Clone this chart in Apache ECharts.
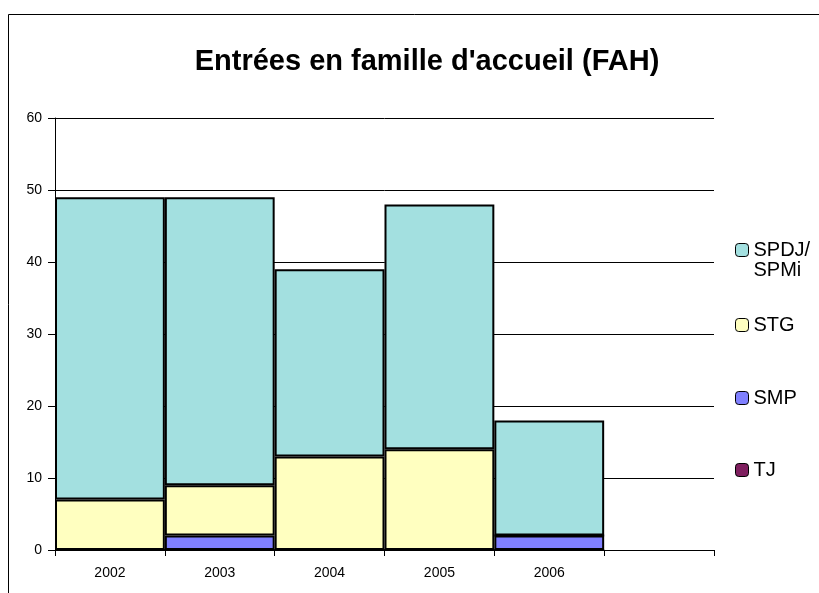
<!DOCTYPE html>
<html>
<head>
<meta charset="utf-8">
<script src="https://cdn.jsdelivr.net/npm/echarts@6/dist/echarts.min.js"></script>
<style>
  html, body { margin: 0; padding: 0; background: #fff; }
  #chart { width: 819px; height: 593px; }
</style>
</head>
<body>
<div id="chart"></div>
<script>
// categories (last slot is empty in the original)
var years = ['2002', '2003', '2004', '2005', '2006', ''];
// stacked from bottom to top
var tj   = [0, 0, 0, 0, 0];
var smp  = [0, 2, 0, 0, 2];
var stg  = [7, 7, 13, 14, 0];
var spdj = [42, 40, 26, 34, 16];
var yTicks = [0, 10, 20, 30, 40, 50, 60];

var colors = {
    tj: '#7F1F5F',
    smp: '#8080FF',
    stg: '#FFFFC0',
    spdj: '#A3E0E0'
};

var chart = echarts.init(document.getElementById('chart'));

function barSeries(name, data, color) {
    return {
        name: name,
        type: 'bar',
        stack: 'fah',
        data: data,
        barCategoryGap: 0,
        itemStyle: { color: color, borderColor: '#000', borderWidth: 2 },
        emphasis: { disabled: true }
    };
}

function legendItem(name, top) {
    return {
        orient: 'vertical',
        left: 735,
        top: top,
        data: [name],
        itemWidth: 13,
        itemHeight: 13,
        itemGap: 0,
        padding: 0,
        selectedMode: false,
        // empty first line keeps the icon level with "SPDJ/" (text is centred on the icon)
        formatter: function (n) { return n === 'SPDJ/SPMi' ? ' \nSPDJ/\nSPMi' : n; },
        textStyle: {
            fontFamily: 'Liberation Sans, Arial',
            fontSize: 20,
            color: '#000',
            lineHeight: 20
        },
        itemStyle: { borderColor: '#000', borderWidth: 1 }
    };
}

var option = {
    animation: false,
    title: {
        text: "Entrées en famille d'accueil (FAH)",
        left: 422,
        top: 42,
        textAlign: 'center',
        textStyle: {
            fontFamily: 'Liberation Sans, Arial',
            fontSize: 29,
            fontWeight: 'bold',
            color: '#000'
        }
    },
    legend: [
        legendItem('SPDJ/SPMi', 220),
        legendItem('STG', 315),
        legendItem('SMP', 388),
        legendItem('TJ', 460)
    ],
    graphic: [{
        type: 'rect',
        shape: { x: 8.5, y: 14.5, width: 900, height: 700 },
        style: { fill: 'none', stroke: '#000', lineWidth: 1 },
        silent: true,
        z: -1
    }],
    grid: {
        left: 55,
        right: 105,
        top: 118,
        bottom: 43
    },
    xAxis: {
        type: 'category',
        data: years,
        axisLine: { lineStyle: { color: '#000', width: 1 } },
        axisTick: { show: true, interval: 0, alignWithLabel: false, length: 6, lineStyle: { color: '#000' } },
        axisLabel: {
            fontFamily: 'Liberation Sans, Arial',
            fontSize: 14,
            color: '#000',
            margin: 16
        }
    },
    yAxis: {
        type: 'value',
        min: yTicks[0],
        max: yTicks[yTicks.length - 1],
        interval: 10,
        axisLine: { show: true, lineStyle: { color: '#000', width: 1 } },
        axisTick: { show: true, length: 7, lineStyle: { color: '#000' } },
        axisLabel: {
            fontFamily: 'Liberation Sans, Arial',
            fontSize: 14,
            color: '#000',
            margin: 13
        },
        splitLine: { lineStyle: { color: '#000', width: 1 } }
    },
    series: [
        barSeries('TJ', tj, colors.tj),
        barSeries('SMP', smp, colors.smp),
        barSeries('STG', stg, colors.stg),
        barSeries('SPDJ/SPMi', spdj, colors.spdj)
    ]
};

chart.setOption(option);
</script>
</body>
</html>
